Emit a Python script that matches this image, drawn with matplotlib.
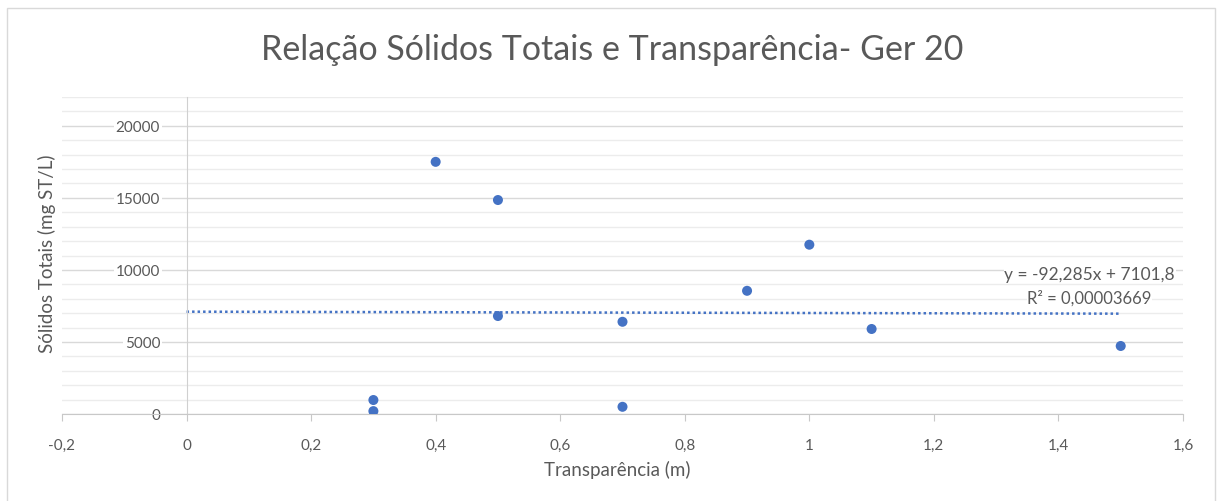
import matplotlib
matplotlib.use("Agg")
import matplotlib.pyplot as plt
import numpy as np
from matplotlib.ticker import MultipleLocator, FuncFormatter
from matplotlib.patches import Rectangle

# Data
transparencia = [0.3, 0.3, 0.4, 0.5, 0.5, 0.7, 0.7, 0.9, 1.0, 1.1, 1.5]
solidos_totais = [200, 970, 17500, 14850, 6800, 6400, 500, 8550, 11750, 5900, 4720]
trend_slope = -92.285
trend_intercept = 7101.8
trend_x_range = [0.0, 1.5]
eq_label = "y = -92,285x + 7101,8"
r2_label = "R² = 0,00003669"
title = "Relação Sólidos Totais e Transparência- Ger 20"
xlabel = "Transparência (m)"
ylabel = "Sólidos Totais (mg ST/L)"

plt.rcParams['font.family'] = ['Lato', 'DejaVu Sans']
gray = '#595959'
blue = '#4472C4'

fig = plt.figure(figsize=(12.18, 5.02), dpi=100)
fig.patch.set_facecolor('white')
fig.add_artist(Rectangle((7/1218, -0.05), (1215-7)/1218, 1 - 9/502 + 0.05,
                         transform=fig.transFigure, fill=False,
                         edgecolor='#d9d9d9', lw=1.0))

ax = fig.add_axes([62/1218, 1-415/502, (1183-62)/1218, (415-98)/502])
ax.set_xlim(-0.2, 1.6)
ax.set_ylim(0, 22000)

ax.yaxis.set_major_locator(MultipleLocator(5000))
ax.yaxis.set_minor_locator(MultipleLocator(1000))
ax.xaxis.set_major_locator(MultipleLocator(0.2))
ax.grid(which='major', axis='y', color='#d9d9d9', lw=1.0, zorder=0)
ax.grid(which='minor', axis='y', color='#ececec', lw=1.0, zorder=0)
ax.set_axisbelow(True)

for s in ['top', 'right']:
    ax.spines[s].set_visible(False)
ax.spines['left'].set_position(('data', 0))
ax.spines['left'].set_color('#d0d0d0')
ax.spines['bottom'].set_color('#c8c8c8')
ax.tick_params(axis='y', which='both', length=0, pad=19, labelsize=11, labelcolor=gray)
ax.tick_params(axis='x', which='major', length=5, color='#c8c8c8', direction='out',
               pad=12, labelsize=11, labelcolor=gray)
ax.tick_params(axis='x', which='minor', length=0)


def fmt_x(v, p):
    if abs(v) < 1e-9:
        return '0'
    return ('%g' % round(v, 2)).replace('.', ',')


ax.xaxis.set_major_formatter(FuncFormatter(fmt_x))
ax.yaxis.set_major_formatter(FuncFormatter(lambda v, p: '%d' % v))
for lab in ax.get_yticklabels():
    lab.set_bbox(dict(facecolor='white', edgecolor='none', pad=1))

ax.scatter(transparencia, solidos_totais, s=52, color=blue, zorder=3, edgecolors='none')

tx = np.array(trend_x_range)
ax.plot(tx, trend_slope * tx + trend_intercept, linestyle=(0, (1, 1.2)),
        color=blue, lw=1.8, zorder=2)

ax.text(1.45, 9750, eq_label, ha='center', va='center', fontsize=12.5, color=gray,
        bbox=dict(facecolor='white', edgecolor='none', pad=0.5))
ax.text(1.45, 8080, r2_label, ha='center', va='center', fontsize=12, color=gray,
        bbox=dict(facecolor='white', edgecolor='none', pad=0.5))

fig.text(612/1218, 1-50/502, title, ha='center', va='center', fontsize=24.5, color=gray)
fig.text(617/1218, 1-470/502, xlabel, ha='center', va='center', fontsize=13.5, color=gray)
fig.text(47/1218, 1-254/502, ylabel, ha='center', va='center', fontsize=13.5, color=gray,
         rotation=90)

fig.savefig('out.png', dpi=100, facecolor='white')
